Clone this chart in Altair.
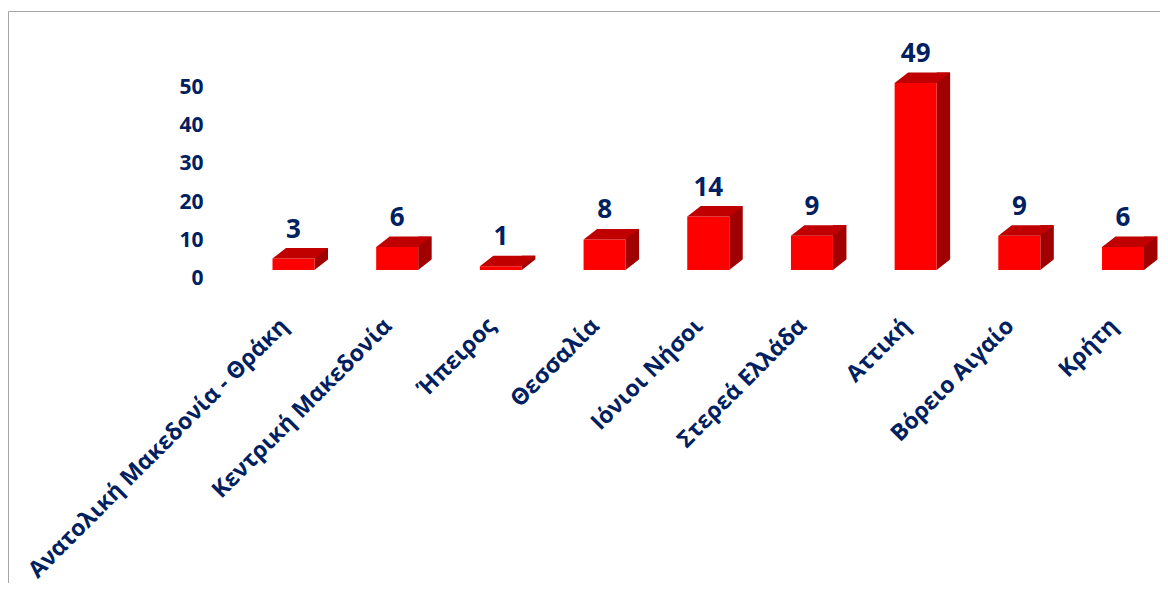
import altair as alt
import pandas as pd

# ---- data ----
regions = [
    "Ανατολική Μακεδονία - Θράκη",
    "Κεντρική Μακεδονία",
    "Ήπειρος",
    "Θεσσαλία",
    "Ιόνιοι Νήσοι",
    "Στερεά Ελλάδα",
    "Αττική",
    "Βόρειο Αιγαίο",
    "Κρήτη",
]
counts = [3, 6, 1, 8, 14, 9, 49, 9, 6]
y_ticks = [0, 10, 20, 30, 40, 50]

df = pd.DataFrame({"region": regions, "count": counts, "zero": [0] * len(regions)})
frame = pd.DataFrame({"k": [0]})

# ---- style ----
NAVY = "#002060"
RED = "#FF0000"
TOP = "#C00000"
SIDE = "#A00000"
FONT = "Open Sans"

W, H = 945, 210
PL, PT, PR, PB = 205, 52, 2, 313
FW, DX, DY = 42, 13.5, 10.5

xscale = alt.Scale(domain=regions, paddingInner=0.5, paddingOuter=0.3069, align=0.8575)
yscale = alt.Scale(domain=[0, 55], nice=False, zero=True)

xaxis = alt.Axis(
    title=None, domain=False, ticks=False, grid=False,
    labelAngle=-45, labelAlign="right", labelBaseline="middle",
    labelPadding=52, labelOffset=-9, labelLimit=1000, labelOverlap=False,
    labelFont=FONT, labelFontSize=23, labelFontWeight="bold", labelColor=NAVY,
)
yaxis = alt.Axis(
    title=None, domain=False, ticks=False, grid=False, values=y_ticks,
    labelPadding=10, labelOffset=8.5,
    labelFont=FONT, labelFontSize=21, labelFontWeight="bold", labelColor=NAVY,
)

base = alt.Chart(df).encode(
    x=alt.X("region:N", sort=regions, scale=xscale, axis=xaxis)
)

side = base.mark_bar(color=SIDE, width=DX, xOffset=FW / 2 + DX / 2, yOffset=-DY).encode(
    y=alt.Y("count:Q", scale=yscale, axis=yaxis), y2="zero:Q"
)

tri_path = f"M {FW/2} 1 L {FW/2+DX+1.5} 1 L {FW/2+DX+1.5} {-(DX+1.5)*DY/DX:.3f} L {FW/2} 0 Z"
tri = base.mark_point(shape=tri_path, filled=True, color="white", opacity=1, size=4).encode(
    y=alt.Y("zero:Q", scale=yscale)
)

front = base.mark_bar(color=RED, width=FW).encode(
    y=alt.Y("count:Q", scale=yscale), y2="zero:Q"
)

top_path = f"M {-FW/2} 0 L {FW/2} 0 L {FW/2+DX} {-DY} L {-FW/2+DX} {-DY} Z"
top = base.mark_point(shape=top_path, filled=True, color=TOP, opacity=1, size=4).encode(
    y=alt.Y("count:Q", scale=yscale)
)

labels = base.mark_text(
    dy=-21, baseline="alphabetic", align="center",
    font=FONT, fontSize=26, fontWeight="bold", color=NAVY,
).encode(y=alt.Y("count:Q", scale=yscale), text="count:Q")

border_top = alt.Chart(frame).mark_rule(color="#A6A6A6", strokeWidth=1).encode(
    x=alt.value(-PL + 0.5), x2=alt.value(W + PR), y=alt.value(-PT + 3.5), y2=alt.value(-PT + 3.5)
)
border_left = alt.Chart(frame).mark_rule(color="#A6A6A6", strokeWidth=1).encode(
    x=alt.value(-PL + 0.5), x2=alt.value(-PL + 0.5), y=alt.value(-PT + 3.5), y2=alt.value(H + PB)
)

chart = (
    alt.layer(side, tri, front, top, labels, border_top, border_left)
    .properties(
        width=W, height=H,
        background="white",
        autosize=alt.AutoSizeParams(type="none"),
        padding={"left": PL, "top": PT, "right": PR, "bottom": PB},
    )
    .configure_view(stroke="transparent", strokeWidth=0)
)

chart.save("out.html", embed_options={"renderer": "svg", "actions": False})
